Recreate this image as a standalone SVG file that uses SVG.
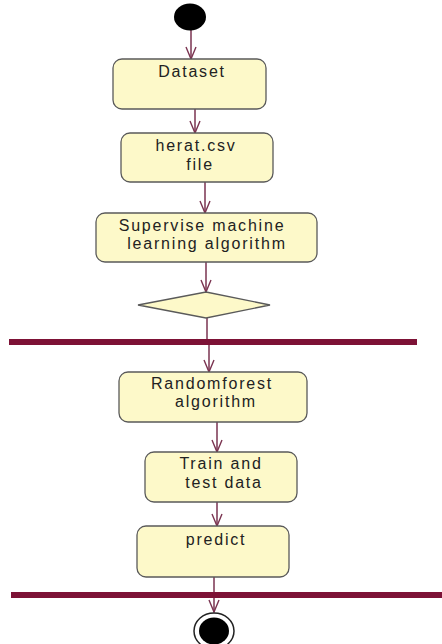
<svg xmlns="http://www.w3.org/2000/svg" width="442" height="644" viewBox="0 0 442 644">
<style>
.act{fill:#fdf9c9;stroke:#5a5a5a;stroke-width:1.3}
.t{font-family:"Liberation Sans",Arial,sans-serif;font-size:16px;letter-spacing:1.8px;fill:#222;text-anchor:middle}
.c{stroke:#7a3350;stroke-width:1.5;fill:none}
.bar{fill:#7d1236}
</style>
<defs>
<marker id="ah" markerWidth="14" markerHeight="12" refX="13" refY="6" orient="auto" markerUnits="userSpaceOnUse" viewBox="0 0 14 12">
<path d="M1,1 L13,6 L1,11" fill="none" stroke="#7a3350" stroke-width="1.4"/>
</marker>
</defs>
<rect width="442" height="644" fill="#ffffff"/>
<g id="bars">
<rect class="bar" x="9" y="339" width="408" height="6"/>
<rect class="bar" x="11" y="592" width="431" height="6"/>
</g>
<g id="connectors">
<path class="c" d="M191,30 L191,59" marker-end="url(#ah)"/>
<path class="c" d="M195,109 L195,133" marker-end="url(#ah)"/>
<path class="c" d="M205,182 L205,213" marker-end="url(#ah)"/>
<path class="c" d="M206,262 L206,292" marker-end="url(#ah)"/>
<path class="c" d="M207,318 L207,339"/>
<path class="c" d="M209,345 L209,372" marker-end="url(#ah)"/>
<path class="c" d="M217,422 L217,452" marker-end="url(#ah)"/>
<path class="c" d="M217,502 L217,526" marker-end="url(#ah)"/>
<path class="c" d="M214,577 L214,592"/>
<path class="c" d="M214,598 L214,612" marker-end="url(#ah)"/>
</g>
<g id="start">
<ellipse cx="190" cy="17" rx="16" ry="13.5" fill="#000"/>
</g>
<g id="dataset">
<rect class="act" x="113" y="59" width="153" height="50" rx="9"/>
<text class="t" x="192" y="77">Dataset</text>
</g>
<g id="herat">
<rect class="act" x="121" y="133" width="152" height="49" rx="9"/>
<text class="t" x="196" y="151">herat.csv</text>
<text class="t" x="200" y="170">file</text>
</g>
<g id="supervise">
<rect class="act" x="96" y="213" width="221" height="49" rx="9"/>
<text class="t" x="202" y="231">Supervise machine</text>
<text class="t" x="207" y="249">learning algorithm</text>
</g>
<g id="decision">
<polygon class="act" points="206,292 270,305 206,318 138,305"/>
</g>
<g id="randomforest">
<rect class="act" x="119" y="372" width="188" height="50" rx="9"/>
<text class="t" x="212" y="389">Randomforest</text>
<text class="t" x="216" y="407">algorithm</text>
</g>
<g id="train">
<rect class="act" x="145" y="452" width="152" height="50" rx="9"/>
<text class="t" x="221" y="469">Train and</text>
<text class="t" x="224" y="488">test data</text>
</g>
<g id="predict">
<rect class="act" x="137" y="526" width="152" height="51" rx="9"/>
<text class="t" x="216" y="545">predict</text>
</g>
<g id="end">
<ellipse cx="214" cy="631" rx="20" ry="18" fill="#fff" stroke="#222" stroke-width="1.5"/>
<ellipse cx="214" cy="631" rx="15" ry="13.5" fill="#000"/>
</g>
</svg>
